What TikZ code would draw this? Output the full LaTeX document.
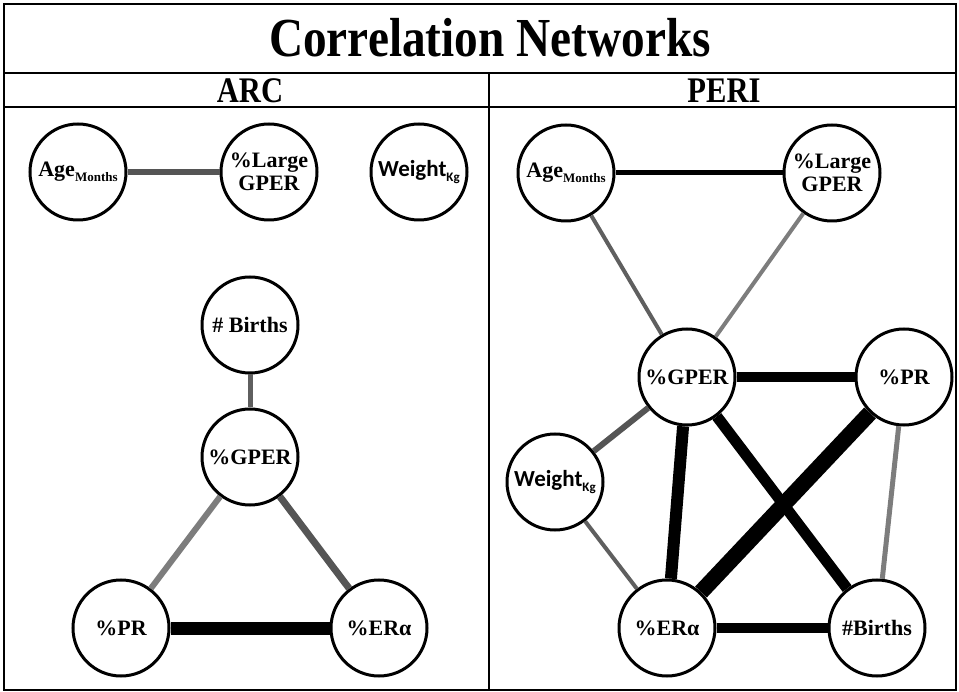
\documentclass[tikz,border=0pt]{standalone}
\usepackage{fontspec}
\usepackage{graphicx}
\setmainfont{Liberation Serif}
\newfontfamily\wtfont{Carlito}
\usetikzlibrary{positioning}
\definecolor{edgedark}{HTML}{555555}
\definecolor{edgemid}{HTML}{5F5F5F}
\definecolor{edgelight}{HTML}{7D7D7D}
\newcommand{\lowsub}[1]{\raisebox{-5pt}{\fontsize{13}{13}\selectfont #1}}

\begin{document}
\begin{tikzpicture}[
    x=1pt, y=-1pt,
    font=\bfseries\fontsize{22}{23}\selectfont,
    frame/.style={draw, line width=2.6pt},
    var/.style={circle, draw, line width=3pt, fill=white, minimum size=96pt, inner sep=0pt, align=center},
    head/.style={font=\bfseries\fontsize{36}{37}\selectfont},
    w/.style={line width=#1pt}
  ]
    \useasboundingbox (0,0) rectangle (959,692);
    % frame and panels
    \draw[frame] (4,4) rectangle (956,690);
    \draw[frame] (4,73) -- (956,73);
    \draw[frame] (4,107) -- (956,107);
    \draw[frame] (489,73) -- (489,690);
    \node (title) at (490,38) {\bfseries\fontsize{55}{57}\selectfont\scalebox{0.86}[1]{Correlation Networks}};
    \node[head] (arc) at (250,91) {\scalebox{0.85}[1]{ARC}};
    \node[head] (peri) at (724,91) {\scalebox{0.85}[1]{PERI}};

    % ARC
    \node[var] (aage) at (78,172) {Age\lowsub{Months}};
    \node[var] (alarge) at (269,172) {\%Large\\GPER};
    \node[var] (aweight) at (419,172) {\wtfont\fontsize{23}{24}\selectfont Weight\lowsub{Kg}};
    \node[var] (abirths) at (250,325) {\# Births};
    \node[var] (agper) at (250,457) {\%GPER};
    \node[var] (apr) at (121,628) {\%PR};
    \node[var] (aer) at (379,628) {\%ERα};
    \draw[w=6, edgedark] (aage) -- (alarge);
    \draw[w=5, edgemid] (abirths) -- (agper);
    \draw[w=6, edgelight] (agper) -- (apr);
    \draw[w=7, edgedark] (agper) -- (aer);
    \draw[w=13] (apr) -- (aer);

    % PERI
    \node[var] (page) at (566,173) {Age\lowsub{Months}};
    \node[var] (plarge) at (832,173) {\%Large\\GPER};
    \node[var] (pgper) at (687,377) {\%GPER};
    \node[var] (ppr) at (904,377) {\%PR};
    \node[var] (pweight) at (555,482) {\wtfont\fontsize{23}{24}\selectfont Weight\lowsub{Kg}};
    \node[var] (per) at (667,628) {\%ERα};
    \node[var] (pbirths) at (877,628) {\#Births};
    \draw[w=5] (page) -- (plarge);
    \draw[w=4, edgemid] (page) -- (pgper);
    \draw[w=4, edgelight] (plarge) -- (pgper);
    \draw[w=10] (pgper) -- (ppr);
    \draw[w=6, edgedark] (pgper) -- (pweight);
    \draw[w=12] (pgper) -- (per);
    \draw[w=11] (pgper) -- (pbirths);
    \draw[w=16] (ppr) -- (per);
    \draw[w=5, edgelight] (ppr) -- (pbirths);
    \draw[w=4, edgemid] (pweight) -- (per);
    \draw[w=10] (per) -- (pbirths);
  \end{tikzpicture}
\end{document}
